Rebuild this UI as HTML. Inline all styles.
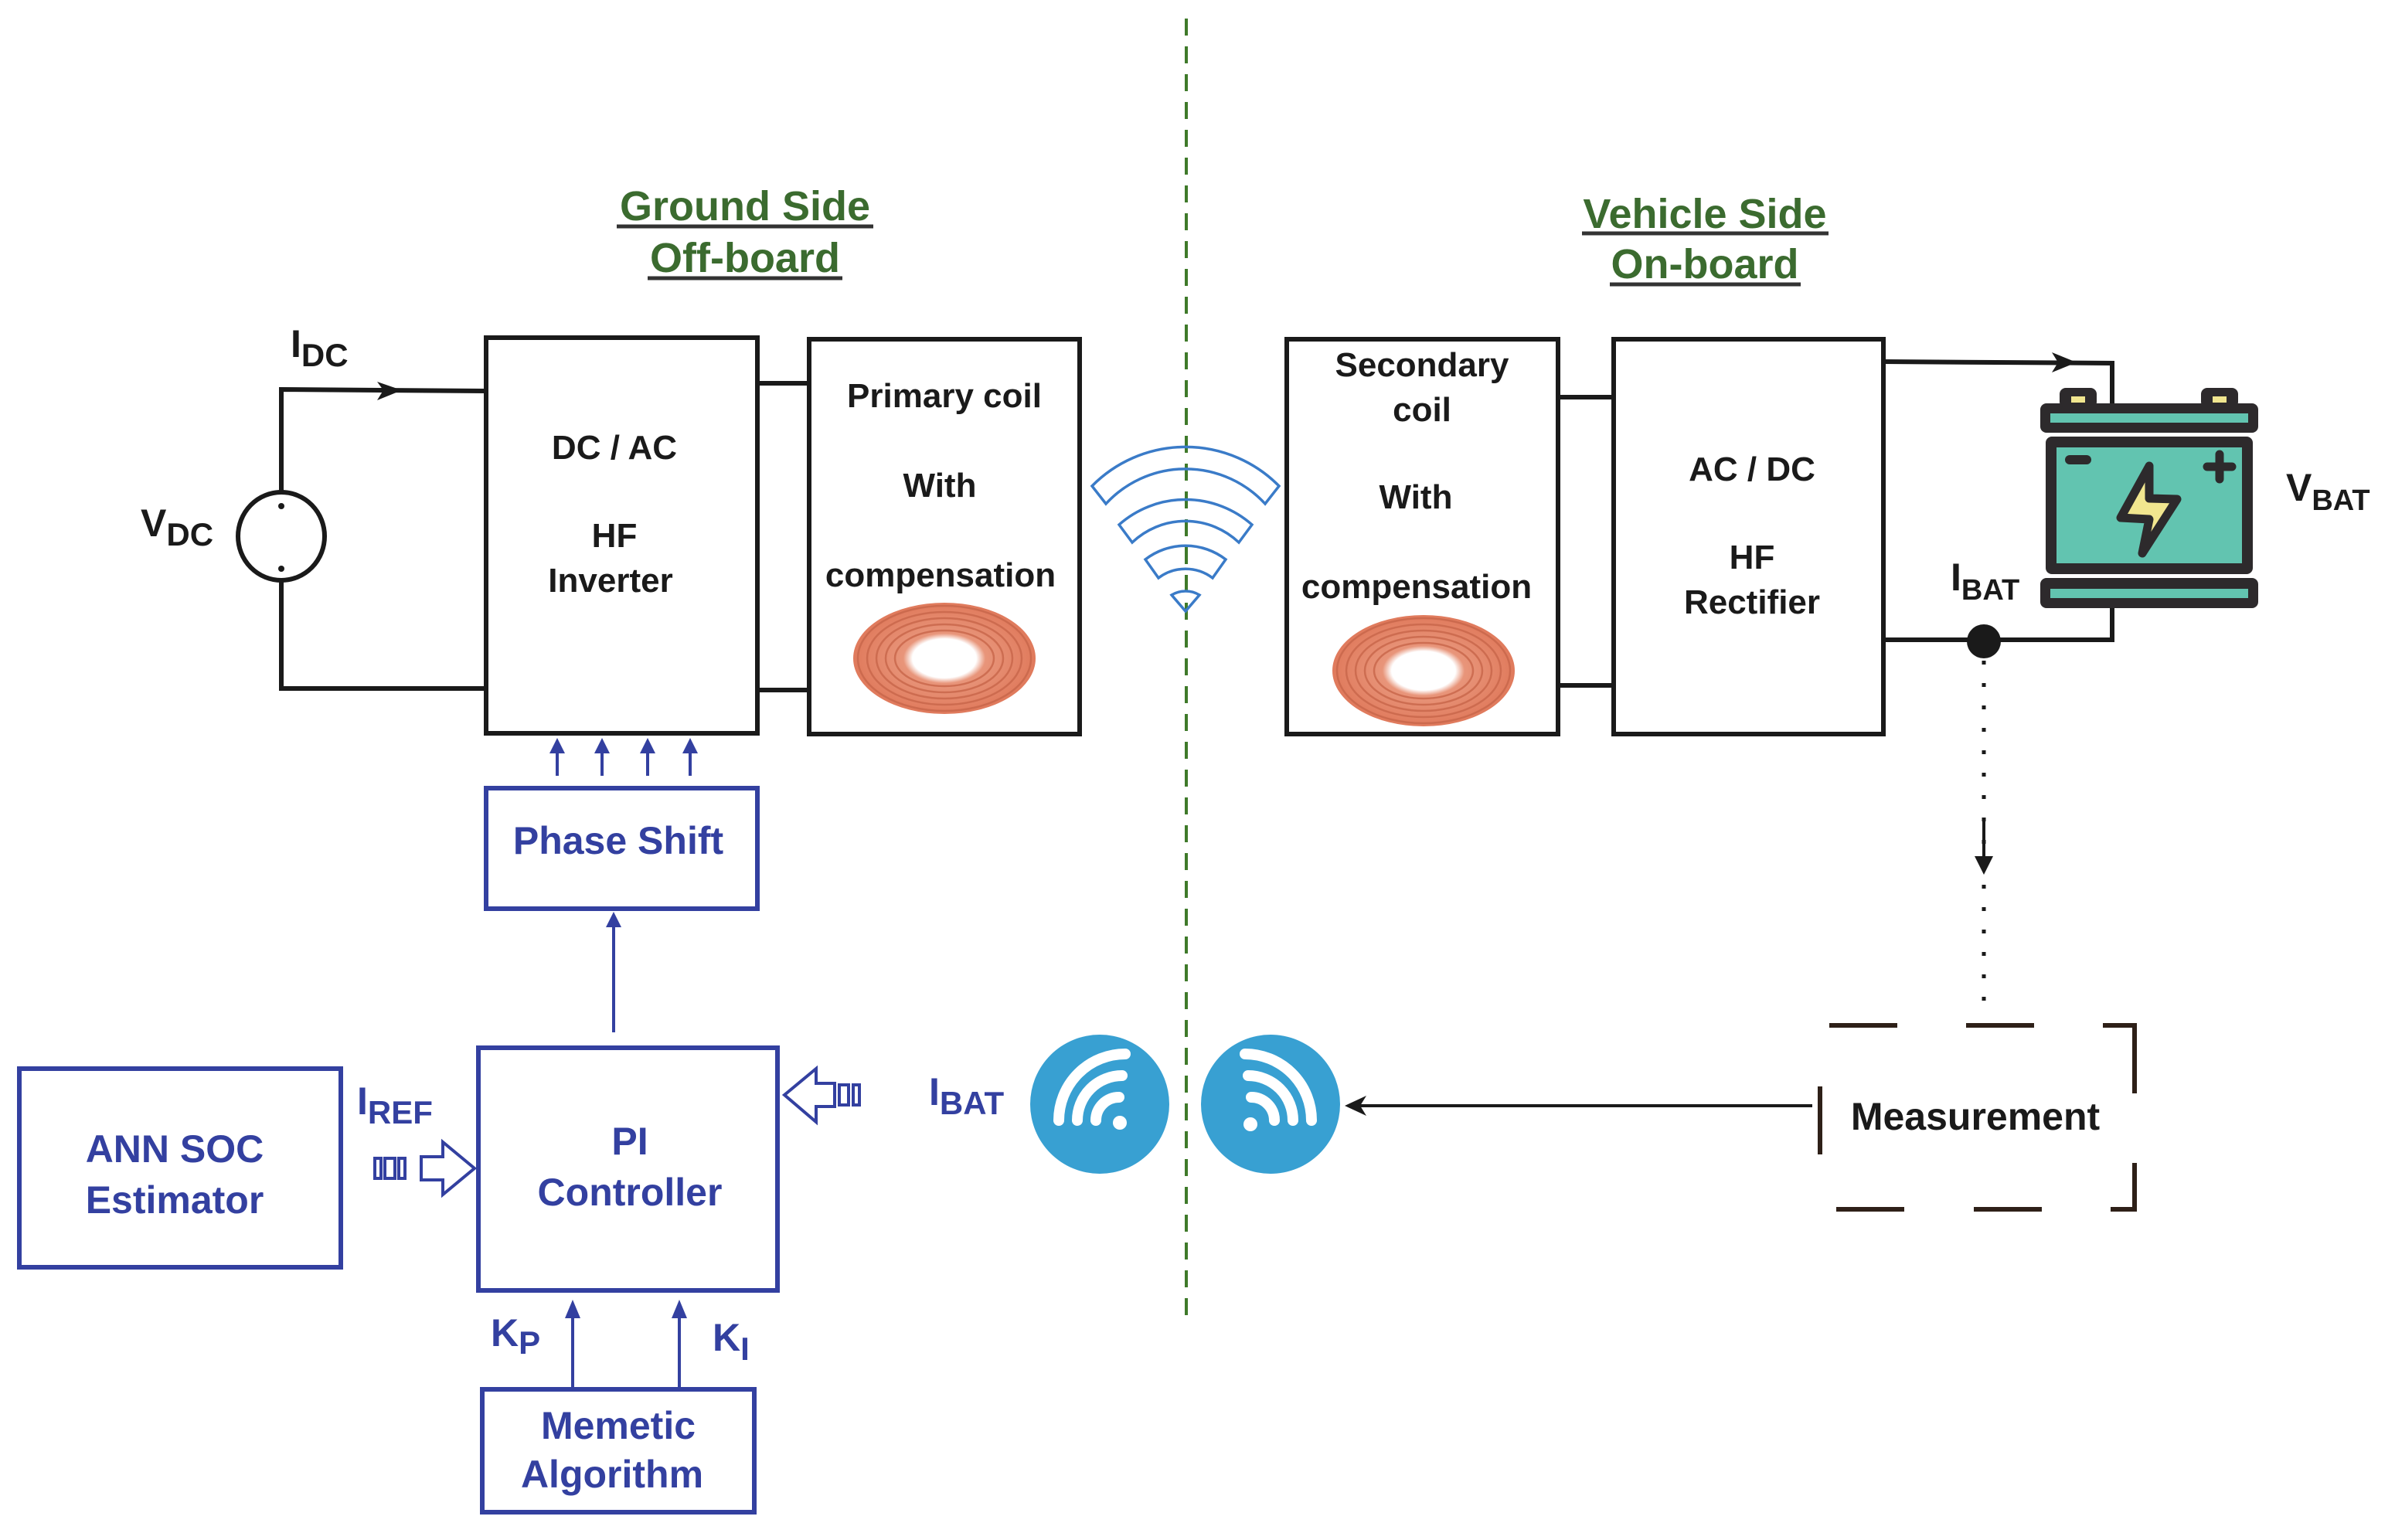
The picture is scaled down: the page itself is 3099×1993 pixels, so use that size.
<!DOCTYPE html>
<html><head><meta charset="utf-8"><style>
html,body{margin:0;padding:0;background:#fff;}
svg{display:block;}
text{font-family:"Liberation Sans",Arial,sans-serif;font-weight:bold;}
</style></head><body>
<svg width="3099" height="1993" viewBox="0 0 3099 1993" xmlns="http://www.w3.org/2000/svg">
<defs>
<radialGradient id="cg" cx="50%" cy="50%" r="50%">
<stop offset="0" stop-color="#fff"/><stop offset="0.35" stop-color="#fff"/><stop offset="0.45" stop-color="#e8957a"/><stop offset="1" stop-color="#e07a5c"/>
</radialGradient>
</defs>
<!-- divider -->
<line x1="1535" y1="24" x2="1535" y2="1706" stroke="#3f7a2a" stroke-width="4" stroke-dasharray="22 14"/>
<!-- titles -->
<g fill="#3b6b2f" font-size="54" text-anchor="middle">
<text x="964" y="285">Ground Side</text>
<text x="964" y="352">Off-board</text>
<text x="2206" y="295">Vehicle Side</text>
<text x="2206" y="360">On-board</text>
</g>
<g stroke="#333" stroke-width="5">
<line x1="798" y1="293" x2="1130" y2="293"/><line x1="838" y1="360" x2="1090" y2="360"/>
<line x1="2047" y1="302" x2="2366" y2="302"/><line x1="2083" y1="368" x2="2330" y2="368"/>
</g>
<!-- ground circuit -->
<g stroke="#1a1a1a" stroke-width="6" fill="none">
<polyline points="628,506 364,504 364,637"/>
<polyline points="364,751 364,891 628,891"/>
<ellipse cx="364" cy="694" rx="56" ry="57"/>
<rect x="629" y="437" width="351" height="512"/>
<rect x="1047" y="439" width="350" height="511"/>
<line x1="980" y1="496" x2="1047" y2="496"/>
<line x1="980" y1="893" x2="1047" y2="893"/>
<rect x="1665" y="439" width="351" height="511"/>
<rect x="2088" y="439" width="349" height="511"/>
<line x1="2016" y1="514" x2="2088" y2="514"/>
<line x1="2016" y1="887" x2="2088" y2="887"/>
<polyline points="2437,468 2733,470 2733,522"/>
<polyline points="2437,828 2733,828 2733,787"/>
</g>
<circle cx="364" cy="655" r="4" fill="#1a1a1a"/><circle cx="364" cy="736" r="4" fill="#1a1a1a"/>
<polygon points="488,494 520,505 488,518 496,505" fill="#1a1a1a"/>
<polygon points="2655,456 2687,469 2655,482 2663,469" fill="#1a1a1a"/>
<ellipse cx="2567" cy="830" rx="22" ry="22" fill="#1a1a1a"/>
<g fill="#1a1a1a" font-size="50">
<text x="376" y="462">I<tspan font-size="42" dy="12">DC</tspan></text>
<text x="182" y="694">V<tspan font-size="42" dy="12">DC</tspan></text>
<text x="2958" y="648">V<tspan font-size="38" dy="12">BAT</tspan></text>
<text x="2524" y="764">I<tspan font-size="38" dy="12">BAT</tspan></text>
</g>
<g fill="#1a1a1a" font-size="44" text-anchor="middle">
<text x="795" y="594">DC / AC</text>
<text x="795" y="708">HF</text>
<text x="790" y="766">Inverter</text>
<text x="1222" y="527">Primary coil</text>
<text x="1216" y="643">With</text>
<text x="1217" y="759">compensation</text>
<text x="1840" y="487">Secondary</text>
<text x="1840" y="545">coil</text>
<text x="1832" y="658">With</text>
<text x="1833" y="774">compensation</text>
<text x="2267" y="622">AC / DC</text>
<text x="2267" y="736">HF</text>
<text x="2267" y="794">Rectifier</text>
</g>
<!-- coils -->
<g fill="none">
<ellipse cx="1222" cy="852" rx="118" ry="72" fill="url(#cg)"/>
<g stroke="#c8664a" stroke-width="2.5" opacity="0.8">
<ellipse cx="1222" cy="852" rx="112" ry="68"/><ellipse cx="1222" cy="852" rx="100" ry="60"/>
<ellipse cx="1222" cy="852" rx="88" ry="52"/><ellipse cx="1222" cy="852" rx="76" ry="44"/>
<ellipse cx="1222" cy="852" rx="64" ry="36"/>
</g>
<ellipse cx="1842" cy="868" rx="118" ry="72" fill="url(#cg)"/>
<g stroke="#c8664a" stroke-width="2.5" opacity="0.8">
<ellipse cx="1842" cy="868" rx="112" ry="68"/><ellipse cx="1842" cy="868" rx="100" ry="60"/>
<ellipse cx="1842" cy="868" rx="88" ry="52"/><ellipse cx="1842" cy="868" rx="76" ry="44"/>
<ellipse cx="1842" cy="868" rx="64" ry="36"/>
</g>
</g>
<!-- broadcast wifi -->
<g fill="none" stroke="#3a7bc8" stroke-width="3.5" stroke-linejoin="miter">
<path d="M1413,634 A170,170 0 0 1 1655,634 L1637,657 A140,140 0 0 0 1431,657 Z" transform="translate(0,-5)"/>
<path d="M1448,679 A130,130 0 0 1 1620,679 L1603,702 A100,100 0 0 0 1465,702 Z"/>
<path d="M1482,724 A85,85 0 0 1 1586,724 L1569,748 A58,58 0 0 0 1499,748 Z"/>
<path d="M1516,770 A35,35 0 0 1 1552,770 L1534,791 Z"/>
</g>
<!-- battery -->
<g>
<rect x="2665" y="502" width="48" height="26" rx="8" fill="#2d2a2c"/>
<rect x="2848" y="502" width="48" height="26" rx="8" fill="#2d2a2c"/>
<rect x="2680" y="513" width="18" height="8" fill="#f1e68f"/>
<rect x="2863" y="513" width="18" height="8" fill="#f1e68f"/>
<rect x="2640" y="522" width="282" height="38" rx="8" fill="#2d2a2c"/>
<rect x="2653" y="535" width="256" height="12" fill="#62c4b0"/>
<rect x="2647" y="565" width="268" height="178" rx="8" fill="#2d2a2c"/>
<rect x="2661" y="579" width="240" height="150" fill="#62c4b0"/>
<rect x="2640" y="748" width="282" height="39" rx="8" fill="#2d2a2c"/>
<rect x="2653" y="762" width="256" height="12" fill="#62c4b0"/>
<rect x="2672" y="589" width="34" height="12" rx="6" fill="#2d2a2c"/>
<path d="M2872,588 v32 M2856,604 h32" stroke="#2d2a2c" stroke-width="11" stroke-linecap="round"/>
<path d="M2781,603 L2744,670 L2781,672 L2772,716 L2817,646 L2781,645 Z" fill="#f1e68f" stroke="#2d2a2c" stroke-width="11" stroke-linejoin="round"/>
</g>
<!-- dotted measurement line -->
<line x1="2567" y1="855" x2="2567" y2="1300" stroke="#1a1a1a" stroke-width="5" stroke-dasharray="5 24"/>
<line x1="2567" y1="1060" x2="2567" y2="1115" stroke="#1a1a1a" stroke-width="4"/>
<polygon points="2555,1108 2579,1108 2567,1132" fill="#1a1a1a"/>
<!-- measurement box -->
<g stroke="#2e2018" stroke-width="6" fill="none">
<line x1="2367" y1="1327" x2="2455" y2="1327"/>
<line x1="2544" y1="1327" x2="2632" y2="1327"/>
<polyline points="2721,1327 2762,1327 2762,1415"/>
<polyline points="2762,1505 2762,1565 2731,1565"/>
<line x1="2642" y1="1565" x2="2554" y2="1565"/>
<line x1="2464" y1="1565" x2="2376" y2="1565"/>
<line x1="2355" y1="1406" x2="2355" y2="1494"/>
</g>
<text x="2556" y="1462" font-size="50" fill="#1a1a1a" text-anchor="middle">Measurement</text>
<line x1="2345" y1="1431" x2="1760" y2="1431" stroke="#1a1a1a" stroke-width="4"/>
<polygon points="1740,1431 1768,1418 1760,1431 1768,1444" fill="#1a1a1a"/>
<!-- blue wifi circles -->
<ellipse cx="1423" cy="1429" rx="90" ry="90" fill="#38a0d2"/>
<ellipse cx="1644" cy="1429" rx="90" ry="90" fill="#38a0d2"/>
<g fill="none" stroke="#fff" stroke-width="14" stroke-linecap="round">
<path d="M1448,1420 A30,30 0 0 0 1418,1450"/>
<path d="M1452,1392 A58,58 0 0 0 1394,1450"/>
<path d="M1456,1364 A86,86 0 0 0 1370,1450"/>
<path d="M1619,1420 A30,30 0 0 1 1649,1450"/>
<path d="M1615,1392 A58,58 0 0 1 1673,1450"/>
<path d="M1611,1364 A86,86 0 0 1 1697,1450"/>
</g>
<circle cx="1449" cy="1453" r="9" fill="#fff"/>
<circle cx="1618" cy="1455" r="9" fill="#fff"/>
<!-- blue control section -->
<g stroke="#3340a0" stroke-width="6" fill="none">
<rect x="629" y="1020" width="351" height="156"/>
<rect x="619" y="1356" width="387" height="314"/>
<rect x="25" y="1383" width="416" height="257"/>
<rect x="624" y="1798" width="352" height="159"/>
</g>
<g stroke="#3340a0" stroke-width="4" fill="none">
<line x1="794" y1="1336" x2="794" y2="1195"/>
<line x1="721" y1="1004" x2="721" y2="968"/>
<line x1="779" y1="1004" x2="779" y2="968"/>
<line x1="838" y1="1004" x2="838" y2="968"/>
<line x1="893" y1="1004" x2="893" y2="968"/>
<line x1="741" y1="1795" x2="741" y2="1700"/>
<line x1="879" y1="1795" x2="879" y2="1700"/>
<path d="M1015,1417 L1056,1383 L1056,1402 L1080,1402 L1080,1432 L1056,1432 L1056,1452 Z"/>
<rect x="1086" y="1404" width="12" height="26"/><rect x="1104" y="1404" width="8" height="26"/>
<path d="M614,1512 L573,1478 L573,1497 L545,1497 L545,1527 L573,1527 L573,1546 Z"/>
<rect x="485" y="1499" width="8" height="26"/><rect x="498" y="1499" width="13" height="26"/><rect x="516" y="1499" width="8" height="26"/>
</g>
<g fill="#3340a0">
<polygon points="794,1180 784,1200 804,1200"/>
<polygon points="721,955 711,975 731,975"/><polygon points="779,955 769,975 789,975"/>
<polygon points="838,955 828,975 848,975"/><polygon points="893,955 883,975 903,975"/>
<polygon points="741,1682 731,1706 751,1706"/><polygon points="879,1682 869,1706 889,1706"/>
</g>
<g fill="#3340a0" font-size="50" text-anchor="middle">
<text x="800" y="1105">Phase Shift</text>
<text x="815" y="1494">PI</text>
<text x="815" y="1560">Controller</text>
<text x="226" y="1504">ANN SOC</text>
<text x="226" y="1570">Estimator</text>
<text x="800" y="1862">Memetic</text>
<text x="792" y="1925">Algorithm</text>
</g>
<g fill="#3340a0" font-size="50">
<text x="462" y="1442">I<tspan font-size="42" dy="12">REF</tspan></text>
<text x="1202" y="1430">I<tspan font-size="42" dy="12">BAT</tspan></text>
<text x="635" y="1742">K<tspan font-size="42" dy="10">P</tspan></text>
<text x="922" y="1748">K<tspan font-size="42" dy="12">I</tspan></text>
</g>
</svg>
</body></html>
